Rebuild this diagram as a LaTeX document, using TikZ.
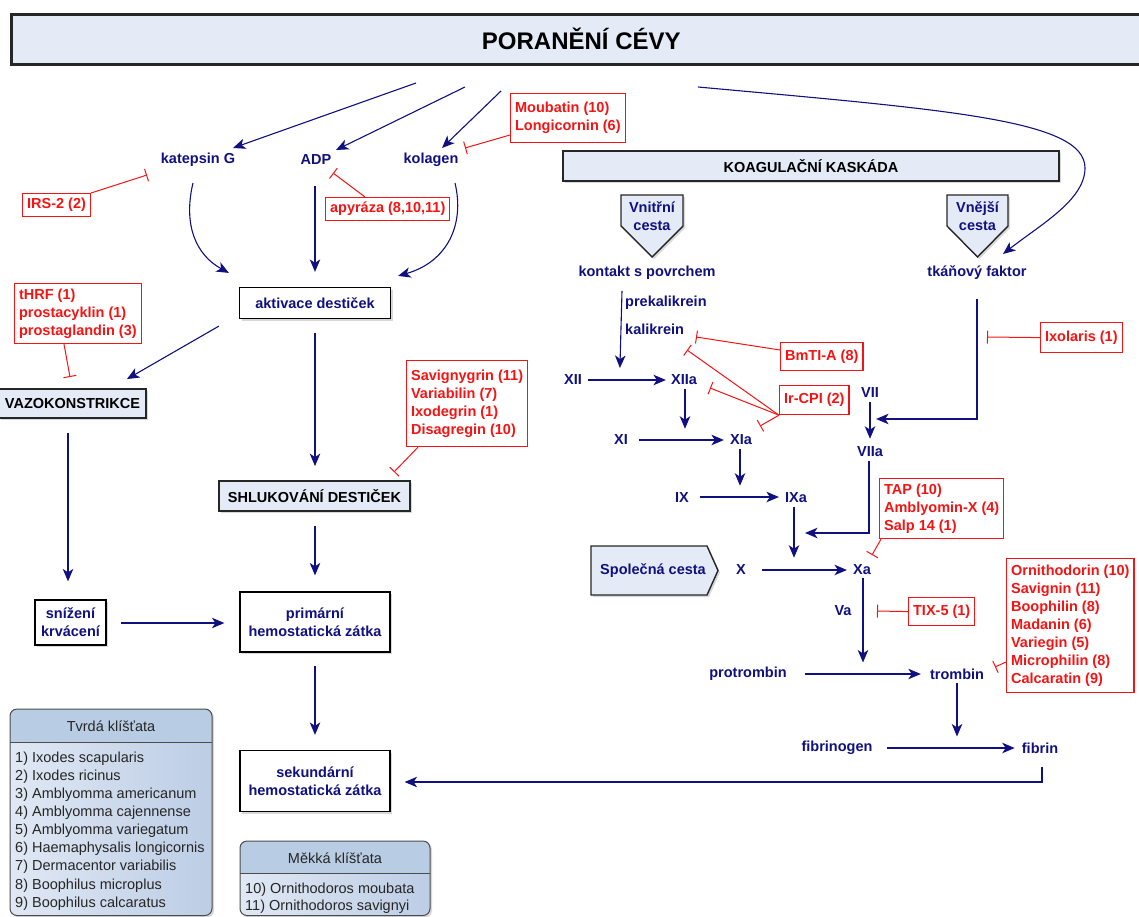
\documentclass[tikz,border=0pt]{standalone}
\usepackage{fontspec}
\setmainfont{Liberation Sans}
\usetikzlibrary{arrows.meta,shadows,calc}
\definecolor{navy}{RGB}{16,16,128}
\definecolor{rred}{RGB}{245,20,20}
\definecolor{lblue}{RGB}{228,235,247}
\definecolor{hblue}{RGB}{184,204,228}
\definecolor{lgone}{RGB}{224,232,244}
\definecolor{lgtwo}{RGB}{188,205,229}
\newcommand{\lf}{\fontsize{14.5}{18}\selectfont\bfseries}
\newcommand{\gf}{\fontsize{14.5}{18}\selectfont}
\begin{document}
\begin{tikzpicture}[x=1pt,y=-1pt,
 lbl/.style={font=\lf, text=navy, inner sep=1pt},
 rb/.style={draw=rred, line width=1.2pt, fill=white, text=rred, font=\lf, align=left, inner xsep=4.5pt, inner ysep=1pt, anchor=north west},
 shd/.style={drop shadow={shadow xshift=2pt, shadow yshift=-2pt, fill=black!30}},
 wb/.style={draw=black, line width=1.2pt, fill=white, text=navy, font=\lf, align=center, inner sep=0pt, shd},
 bb/.style={draw=black!85, line width=1.8pt, fill=lblue, text=black, font=\lf, align=center, inner sep=0pt, shd},
 pent/.style={draw=black!85, line width=1.4pt, fill=lblue, shd},
 arr/.style={draw=navy, line width=1.1pt, -{Stealth[length=12.5pt,width=10.5pt,inset=3.5pt]}},
 inh/.style={draw=rred, line width=1pt, -{Bar[width=13pt,line width=1pt]}},
 lg/.style={font=\gf, text=black!85, inner sep=0pt, anchor=west},
]
\useasboundingbox (0,0) rectangle (1139,917);

% ---------- title ----------
\node[bb, line width=2.6pt, minimum width=1140pt, minimum height=50pt, anchor=north west,
      font=\fontsize{24}{28}\selectfont\bfseries] (title) at (10,13) {PORANĚNÍ CÉVY};

% ---------- left part: labels ----------
\node[lbl] (katG) at (198,160) {katepsin G};
\node[lbl] (adp) at (316,160) {ADP};
\node[lbl] (kol) at (431,160) {kolagen};

\node[wb, minimum width=151pt, minimum height=31pt] (akt) at (315,303) {aktivace destiček};
\node[bb, minimum width=147pt, minimum height=29pt] (vazo) at (72.5,403.5) {VAZOKONSTRIKCE};
\node[bb, minimum width=191pt, minimum height=30pt] (shluk) at (314.5,496) {SHLUKOVÁNÍ DESTIČEK};
\node[wb, minimum width=71pt, minimum height=45pt] (sniz) at (70.5,622.5) {snížení\\krvácení};
\node[wb, minimum width=150pt, minimum height=60pt] (prim) at (315,622) {primární\\hemostatická zátka};
\node[wb, minimum width=150pt, minimum height=61pt] (sek) at (315,781) {sekundární\\hemostatická zátka};

% red boxes left
\node[rb, minimum height=49pt] (moub) at (510,93) {Moubatin (10)\\Longicornin (6)};
\node[rb, minimum height=23pt] (irs) at (22,193) {IRS-2 (2)};
\node[rb, minimum height=23pt] (apy) at (325,197) {apyráza (8,10,11)};
\node[rb, minimum height=60pt] (thrf) at (14,283) {tHRF (1)\\prostacyklin (1)\\prostaglandin (3)};
\node[rb, minimum height=86pt] (savg) at (406,360) {Savignygrin (11)\\Variabilin (7)\\Ixodegrin (1)\\Disagregin (10)};

% ---------- right part ----------
\node[bb, minimum width=496pt, minimum height=30pt] (koag) at (811,166) {KOAGULAČNÍ KASKÁDA};
\path[pent] (621,195) -- (683,195) -- (683,226) -- (652,257) -- (621,226) -- cycle;
\node[lbl, align=center] (vnitr) at (652,216.5) {Vnitřní\\cesta};
\path[pent] (947,195) -- (1008,195) -- (1008,226) -- (977.5,257) -- (947,226) -- cycle;
\node[lbl, align=center] (vnejs) at (977.5,216.5) {Vnější\\cesta};
\path[pent] (591,546) -- (707,546) -- (718,570.5) -- (707,595) -- (591,595) -- cycle;
\node[lbl] (spol) at (653,570.5) {Společná cesta};

\node[lbl] (kont) at (647,273) {kontakt s povrchem};
\node[lbl] (tkan) at (977,273) {tkáňový faktor};
\node[lbl, anchor=west] (prek) at (624,303) {prekalikrein};
\node[lbl, anchor=west] (kalik) at (624,329) {kalikrein};
\node[lbl] (f12) at (573,380) {XII};
\node[lbl] (f12a) at (684,380) {XIIa};
\node[lbl] (f11) at (621,440) {XI};
\node[lbl] (f11a) at (741,440) {XIa};
\node[lbl] (f9) at (682,498) {IX};
\node[lbl] (f9a) at (796,498) {IXa};
\node[lbl] (f7) at (870,393) {VII};
\node[lbl] (f7a) at (870,452) {VIIa};
\node[lbl] (f10) at (741,570) {X};
\node[lbl] (f10a) at (862,570) {Xa};
\node[lbl] (f5a) at (843,611) {Va};
\node[lbl] (protr) at (748,674) {protrombin};
\node[lbl] (tromb) at (957,674) {trombin};
\node[lbl] (fibg) at (837,748) {fibrinogen};
\node[lbl] (fibr) at (1040,748) {fibrin};

\node[rb, minimum height=28pt] (bmti) at (780,342) {BmTI-A (8)};
\node[rb, minimum height=29pt] (ircpi) at (779,385) {Ir-CPI (2)};
\node[rb, minimum height=30pt] (ixol) at (1040,322) {Ixolaris (1)};
\node[rb, minimum height=60pt] (tap) at (879,478) {TAP (10)\\Amblyomin-X (4)\\Salp 14 (1)};
\node[rb, minimum height=28pt] (tix) at (908,597) {TIX-5 (1)};
\node[rb, minimum height=134pt] (orn) at (1006,558) {Ornithodorin (10)\\Savignin (11)\\Boophilin (8)\\Madanin (6)\\Variegin (5)\\Microphilin (8)\\Calcaratin (9)};

% ---------- coordinates for free ends ----------
\coordinate (s1) at (416,83);  \coordinate (e1) at (233,148);
\coordinate (s2) at (465,87);  \coordinate (e2) at (336,150);
\coordinate (s3) at (501,91);  \coordinate (e3) at (442,148);
\coordinate (s4) at (698,87);  \coordinate (e4) at (1003,254);

% ---------- navy arrows ----------
\draw[arr] (s1) -- (e1);
\draw[arr] (s2) -- (e2);
\draw[arr] (s3) -- (e3);
\draw[arr] (s4) .. controls (950,110) and (1085,120) .. (1085,168) .. controls (1085,200) and (1040,225) .. (e4);

\draw[arr] ($(katG.south)+(-5,15)$) .. controls (183,225) and (196,255) .. ($(akt.north west)+(-10,-14)$);
\draw[arr] ($(adp.south)+(-1,20)$) -- ($(akt.north)+(0,-15)$);
\draw[arr] ($(kol.south)+(24,15)$) .. controls (465,225) and (447,262) .. ($(akt.north east)+(7,-11)$);

\draw[arr] ($(akt.south west)+(-20,7)$) -- ($(vazo.north east)+(-20,-9)$);
\draw[arr] ($(akt.south)+(0,14)$) -- ($(shluk.north)+(0.5,-14)$);
\draw[arr] ($(vazo.south)+(-4.5,14)$) -- ($(sniz.north)+(-2.5,-18)$);
\draw[arr] ($(sniz.east)+(14,0.5)$) -- ($(prim.west)+(-15,1)$);
\draw[arr] ($(shluk.south)+(0.5,14)$) -- ($(prim.north)+(0,-16)$);
\draw[arr] ($(prim.south)+(0,13)$) -- ($(sek.north)+(0,-15)$);
\draw[arr] ($(fibr.south)+(2,12)$) -- (1042,782) -- ($(sek.east)+(14,1)$);

\draw[arr] ($(kont.south)+(-25,10)$) -- ($(f12a.west)+(-50,-12)$);
\draw[arr] (f12.east) ++(5,0) -- ($(f12a.west)+(-4,0)$);
\draw[arr] ($(f12a.south)+(1,3)$) -- ($(f11a.north)+(-56,-5)$);
\draw[arr] ($(f11.east)+(10,0)$) -- ($(f11a.west)+(-5,0)$);
\draw[arr] ($(f11a.south)+(-1,3)$) -- ($(f9a.north)+(-56,-6)$);
\draw[arr] ($(f9.east)+(10,-1)$) -- ($(f9a.west)+(-5,-1)$);
\draw[arr] ($(f9a.south)+(-2,3)$) -- ($(f10a.north)+(-68,-6)$);
\draw[arr] ($(f7.south)+(0,3)$) -- ($(f7a.north)+(0,-7)$);
\draw[arr] ($(tkan.south)+(0,18)$) -- (977,419) -- ($(f7.east)+(-4,26)$);
\draw[arr] ($(f7a.south)+(-1,3)$) -- (869,533) -- (805,533);
\draw[arr] ($(f10.east)+(15,0)$) -- ($(f10a.west)+(-5,0)$);
\draw[arr] ($(f10a.south)+(1,2)$) -- ($(tromb.north)+(-94,-5)$);
\draw[arr] ($(protr.east)+(17,0)$) -- ($(tromb.west)+(-8,0)$);
\draw[arr] ($(tromb.south)+(0,2)$) -- ($(fibr.north)+(-83,-5)$);
\draw[arr] ($(fibg.east)+(13,0)$) -- ($(fibr.west)+(-6,0)$);

% ---------- inhibitors ----------
\coordinate (tMoub) at (465,148);
\coordinate (tIrs) at (147,175);
\coordinate (tApy) at (333,173);
\coordinate (tThrf) at (70,377);
\coordinate (tSavg) at (394,472);
\coordinate (tBm) at (696,337);
\coordinate (tIr1) at (687,350);
\coordinate (tIr2) at (710,388);
\coordinate (tIr3) at (760,426);
\coordinate (tIxo) at (987,337);
\coordinate (tTap) at (872,555);
\coordinate (tTix) at (877,611);
\coordinate (tOrn) at (995,667);

\draw[inh] ($(moub.north west)+(0,42)$) -- (tMoub);
\draw[inh] (irs.north east) -- (tIrs);
\draw[inh] ($(apy.north west)+(40,0)$) -- (tApy);
\draw[inh] ($(thrf.south west)+(50,0)$) -- (tThrf);
\draw[inh] ($(savg.south west)+(12,0)$) -- (tSavg);
\draw[inh] ($(bmti.north west)+(0,8)$) -- (tBm);
\draw[inh] (ircpi.south west) -- (tIr1);
\draw[inh] (ircpi.south west) -- (tIr2);
\draw[inh] (ircpi.south west) -- (tIr3);
\draw[inh] (ixol.west) -- (tIxo);
\draw[inh] ($(tap.south west)+(2,0)$) -- (tTap);
\draw[inh] (tix.west) -- (tTix);
\draw[inh] ($(orn.north west)+(0,104)$) -- (tOrn);

% ---------- legends ----------
\path[rounded corners=7pt, left color=lgone, right color=lgtwo, shd] (10,709) rectangle (212,915.5);
\begin{scope}
\clip[rounded corners=7pt] (10,709) rectangle (212,915.5);
\fill[hblue] (10,709) rectangle (212,742);
\end{scope}
\draw[rounded corners=7pt, draw=black!70, line width=1pt] (10,709) rectangle (212,915.5);
\draw[black!70, line width=1pt] (10,742) -- (212,742);
\node[lg, anchor=center] (legTh) at (111,726) {Tvrdá klíšťata};
\node[lg] (l1) at (15,759) {1) Ixodes scapularis};
\node[lg] (l2) at (15,777) {2) Ixodes ricinus};
\node[lg] (l3) at (15,795) {3) Amblyomma americanum};
\node[lg] (l4) at (15,813) {4) Amblyomma cajennense};
\node[lg] (l5) at (15,831) {5) Amblyomma variegatum};
\node[lg] (l6) at (15,849) {6) Haemaphysalis longicornis};
\node[lg] (l7) at (15,867) {7) Dermacentor variabilis};
\node[lg] (l8) at (15,885.5) {8) Boophilus microplus};
\node[lg] (l9) at (15,903.5) {9) Boophilus calcaratus};

\path[rounded corners=7pt, left color=lgone, right color=lgtwo, shd] (240,841) rectangle (430,915.5);
\begin{scope}
\clip[rounded corners=7pt] (240,841) rectangle (430,915.5);
\fill[hblue] (240,841) rectangle (430,873);
\end{scope}
\draw[rounded corners=7pt, draw=black!70, line width=1pt] (240,841) rectangle (430,915.5);
\draw[black!70, line width=1pt] (240,873) -- (430,873);
\node[lg, anchor=center] (legMh) at (335,858) {Měkká klíšťata};
\node[lg] (l10) at (245,890) {10) Ornithodoros moubata};
\node[lg] (l11) at (245,907) {11) Ornithodoros savignyi};
\end{tikzpicture}
\end{document}
